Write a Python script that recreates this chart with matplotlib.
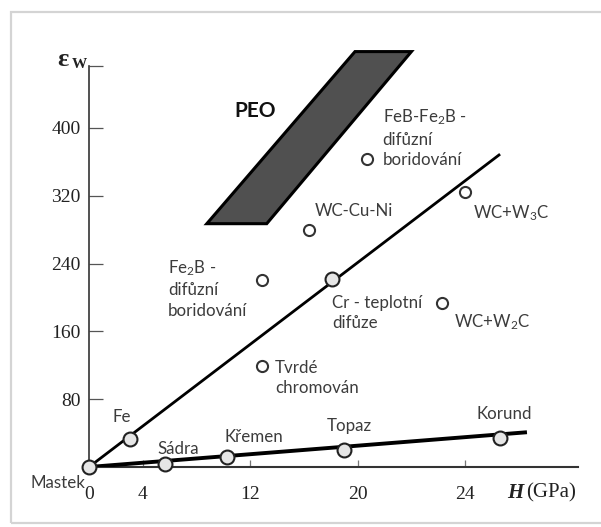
import matplotlib
matplotlib.use("Agg")
import matplotlib.pyplot as plt
from matplotlib.patches import Polygon, Rectangle

plt.rcParams['mathtext.fontset'] = 'custom'
plt.rcParams['mathtext.rm'] = 'Lato'
plt.rcParams['mathtext.it'] = 'Lato:italic'

# data (H in plot units, eps_W)
upper_line_h = [0, 30.6]
upper_line_e = [0, 369]
lower_line_h = [0, 32.6]
lower_line_e = [0, 41]

line_pt_names = ['Mastek', 'Fe', 'Sádra', 'Křemen', 'Topaz', 'Korund', 'Cr']
line_pt_h = [0, 3.05, 5.65, 10.26, 19.0, 30.6, 18.1]
line_pt_e = [0, 33, 3.5, 11.8, 20, 34, 222]

free_pt_names = ['Fe2B', 'Tvrdé', 'WC-Cu-Ni', 'FeB-Fe2B', 'WC+W3C', 'WC+W2C']
free_pt_h = [12.85, 12.85, 16.4, 20.7, 28.0, 26.3]
free_pt_e = [221, 119, 280, 363, 324, 193]

peo_h = [8.77, 13.23, 24.0, 19.8]
peo_e = [287, 287, 490, 490]

xtick_pos = [0, 4, 12, 20, 28]
xtick_labels = ['0', '4', '12', '20', '24']
ytick_pos = [80, 160, 240, 320, 400, 473]
ytick_labels = ['80', '160', '240', '320', '400', '']

txt_col = '#3c3c3c'
sans = ['Lato', 'DejaVu Sans']
serif = ['Liberation Serif', 'DejaVu Serif']

fig = plt.figure(figsize=(6.01, 5.27), dpi=100)

# light frame like the screenshot
fig.add_artist(Rectangle((11 / 601, 1 - 523 / 527), 1.2, (523 - 12) / 527,
                         transform=fig.transFigure, fill=False,
                         edgecolor='#d4d4d4', linewidth=1.6))

ax = fig.add_axes([89 / 601, 1 - 467 / 527, 489 / 601, 401 / 527])
ax.set_xlim(0, 36.4)
ax.set_ylim(0, 473)
for s in ['top', 'right']:
    ax.spines[s].set_visible(False)
ax.spines['left'].set_linewidth(1.2)
ax.spines['bottom'].set_linewidth(1.5)
ax.spines['left'].set_color('#333333')
ax.spines['bottom'].set_color('#333333')

ax.set_xticks(xtick_pos)
ax.set_xticklabels(xtick_labels)
ax.set_yticks(ytick_pos)
ax.set_yticklabels(ytick_labels)
ax.tick_params(axis='y', direction='in', length=10, width=0.9, pad=6,
               labelsize=14, labelcolor='#222222', color='#555555')
ax.tick_params(axis='x', direction='in', length=5, width=0.9, pad=14,
               labelsize=14, labelcolor='#222222', color='#777777')
for lab in ax.get_xticklabels() + ax.get_yticklabels():
    lab.set_family(serif)

# PEO region
ax.add_patch(Polygon(list(zip(peo_h, peo_e)), closed=True, facecolor='#505050',
                     edgecolor='black', linewidth=2.2, clip_on=False, zorder=2))
ax.text(12.34, 420, 'PEO', family=sans, fontweight='bold', fontsize=15,
        color='#111111', ha='center', va='center')

ax.plot(upper_line_h, upper_line_e, color='black', linewidth=2.0, zorder=3,
        solid_capstyle='butt')
ax.plot(lower_line_h, lower_line_e, color='black', linewidth=2.8, zorder=3,
        solid_capstyle='butt')

ax.plot(line_pt_h, line_pt_e, 'o', markersize=10, markerfacecolor='#e6e6e6',
        markeredgecolor='#222222', markeredgewidth=1.5, clip_on=False, zorder=4)
ax.plot(free_pt_h, free_pt_e, 'o', markersize=8, markerfacecolor='white',
        markeredgecolor='#333333', markeredgewidth=1.5, clip_on=False, zorder=4)

labels = [
    (21.86, 388, 'FeB-Fe$_\\mathrm{2}$B -\ndifůzní\nboridování', 'left'),
    (16.8, 302, 'WC-Cu-Ni', 'left'),
    (28.55, 299, 'WC+W$_\\mathrm{3}$C', 'left'),
    (5.87, 210.6, 'Fe$_\\mathrm{2}$B -\ndifůzní\nboridování', 'left'),
    (13.83, 105, 'Tvrdé\nchromován', 'left'),
    (18.07, 181.8, 'Cr - teplotní\ndifůze', 'left'),
    (27.2, 170.6, 'WC+W$_\\mathrm{2}$C', 'left'),
    (2.45, 58.8, 'Fe', 'center'),
    (5.06, 21.2, 'Sádra', 'left'),
    (10.1, 35.3, 'Křemen', 'left'),
    (17.7, 48.2, 'Topaz', 'left'),
    (28.85, 62.4, 'Korund', 'left'),
    (-4.39, -18.8, 'Mastek', 'left'),
]
for x, y, t, ha in labels:
    ax.text(x, y, t, family=sans, fontsize=12.2, color=txt_col, ha=ha,
            va='center', linespacing=1.35, clip_on=False)

# axis titles
ax.text(-2.4, 481, 'ε', family=serif, fontsize=19, fontweight='bold',
        color='#222222', ha='left', va='center', clip_on=False)
ax.text(-1.25, 475, 'W', family=serif, fontsize=11, fontweight='bold',
        color='#222222', ha='left', va='center', clip_on=False)
ax.text(31.15, -30.6, 'H', family=serif, fontsize=15, fontweight='bold',
        fontstyle='italic', color='#222222', ha='left', va='center', clip_on=False)
ax.text(32.55, -30.6, '(GPa)', family=serif, fontsize=15, color='#222222',
        ha='left', va='center', clip_on=False)

fig.savefig('out.png', dpi=100)
